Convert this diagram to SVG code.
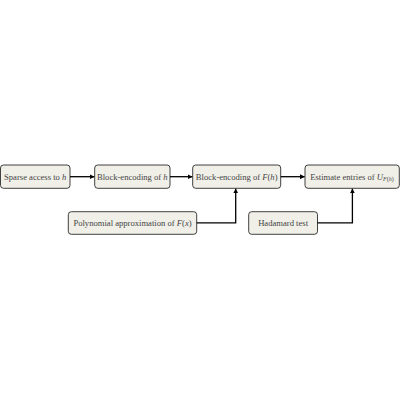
<svg xmlns="http://www.w3.org/2000/svg" width="400" height="400" viewBox="0 0 400 400">
<style>
.box{fill:#f0efe8;stroke:#111;stroke-width:0.8}
.t{font-family:"Liberation Serif","Times New Roman",serif;font-size:8.6px;fill:#444;text-anchor:middle;dominant-baseline:central}
.m{font-style:italic}
.c{fill:none;stroke:#000;stroke-width:1.3}
</style>
<defs>
<marker id="ah" viewBox="0 0 6 6" refX="5.5" refY="3" markerWidth="5" markerHeight="5" markerUnits="userSpaceOnUse" orient="auto">
<path d="M0,0 L6,3 L0,6 Z" fill="#000"/>
</marker>
</defs>
<rect width="400" height="400" fill="#fff"/>
<g id="n1"><rect class="box" x="0.5" y="165" width="69.5" height="23.3" rx="3"/><text class="t" x="35.2" y="176.7">Sparse access to <tspan class="m">h</tspan></text></g>
<g id="n2"><rect class="box" x="94.7" y="165" width="75.3" height="23.3" rx="3"/><text class="t" x="132.3" y="176.7">Block-encoding of <tspan class="m">h</tspan></text></g>
<g id="n3"><rect class="box" x="192.7" y="165" width="88" height="23.3" rx="3"/><text class="t" x="236.7" y="176.7">Block-encoding of <tspan class="m">F</tspan>(<tspan class="m">h</tspan>)</text></g>
<g id="n4"><rect class="box" x="305" y="165" width="94.3" height="23.3" rx="3"/><text class="t" x="352" y="176.7">Estimate entries of <tspan class="m">U</tspan><tspan font-size="6px" dy="1.8"><tspan class="m">F</tspan>(<tspan class="m">h</tspan>)</tspan></text></g>
<g id="n5"><rect class="box" x="68.3" y="211.7" width="128.4" height="22.6" rx="3"/><text class="t" x="132.5" y="223">Polynomial approximation of <tspan class="m">F</tspan>(<tspan class="m">x</tspan>)</text></g>
<g id="n6"><rect class="box" x="248.7" y="211.7" width="68.8" height="22.6" rx="3"/><text class="t" x="283.1" y="223">Hadamard test</text></g>
<g id="connectors">
<path class="c" d="M70,176.7 H94.2" marker-end="url(#ah)"/>
<path class="c" d="M170,176.7 H192.2" marker-end="url(#ah)"/>
<path class="c" d="M280.7,176.7 H304.5" marker-end="url(#ah)"/>
<path class="c" d="M196.7,222.8 H235.7 V188.8" marker-end="url(#ah)"/>
<path class="c" d="M317.5,222.8 H352.4 V188.8" marker-end="url(#ah)"/>
</g>
</svg>
